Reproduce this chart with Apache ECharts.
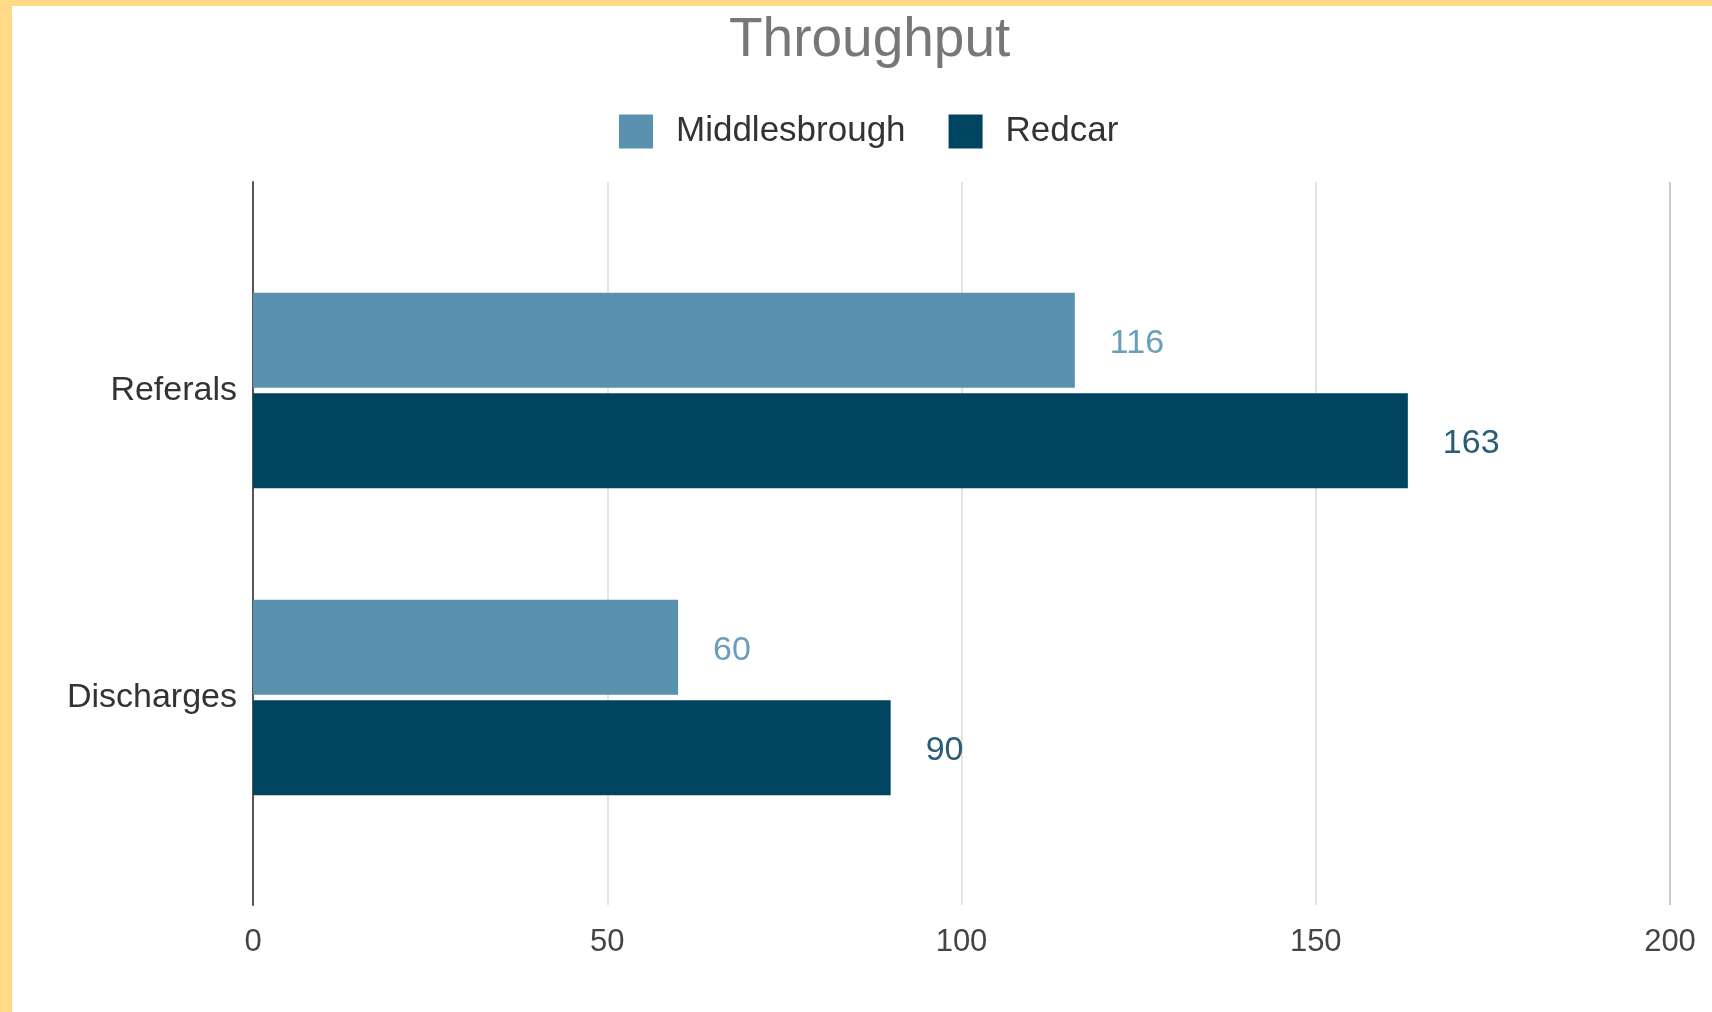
<!DOCTYPE html>
<html>
<head>
<meta charset="utf-8">
<title>Throughput</title>
<script src="https://cdn.jsdelivr.net/npm/echarts@6/dist/echarts.min.js"></script>
<style>
  html, body { margin: 0; padding: 0; background: #ffffff; }
  #chart { position: absolute; left: 0; top: 0; width: 1712px; height: 1012px; }
  .edge { position: absolute; background: #ffdb87; }
  #edgeLeft { left: 0; top: 0; width: 12px; height: 1012px; }
  #edgeTop { left: 0; top: 0; width: 1712px; height: 6px; }
</style>
</head>
<body>
<div id="chart"></div>
<div class="edge" id="edgeLeft"></div>
<div class="edge" id="edgeTop"></div>
<script>
// Throughput by site
const categories = ['Referals', 'Discharges'];
const middlesbrough = [116, 60];
const redcar = [163, 90];
const seriesNames = ['Middlesbrough', 'Redcar'];
const xTicks = { min: 0, max: 200, interval: 50 };

const FONT = "'Liberation Sans', Arial, sans-serif";
const LIGHT = '#5a91af';
const DARK = '#01445f';

const chart = echarts.init(document.getElementById('chart'), null, { renderer: 'canvas' });

const gridLeft = 253, gridRight = 42;

chart.setOption({
  animation: false,
  backgroundColor: '#ffffff',
  textStyle: { fontFamily: FONT },
  title: {
    text: 'Throughput',
    left: 724,
    top: 8,
    textStyle: { fontFamily: FONT, fontSize: 55, fontWeight: 'normal', color: '#777777' }
  },
  legend: {
    left: 614,
    top: 109,
    itemWidth: 34,
    itemHeight: 34,
    itemGap: 43,
    icon: 'rect',
    textStyle: { fontFamily: FONT, fontSize: 35, color: '#333333', padding: [0, 0, 0, 18] },
    data: seriesNames
  },
  grid: [
    // frame: axis line, gridlines and tick labels
    { left: gridLeft, right: gridRight, top: 182, bottom: 107 },
    // bars
    { left: gridLeft, right: gridRight, top: 237, bottom: 161 }
  ],
  xAxis: [
    {
      gridIndex: 0,
      type: 'value',
      min: xTicks.min, max: xTicks.max, interval: xTicks.interval,
      axisLine: { show: false },
      axisTick: { show: false },
      axisLabel: { fontFamily: FONT, fontSize: 31, color: '#444444', margin: 22 },
      splitLine: {
        show: true,
        lineStyle: { width: 2, color: ['#e4e4e4', '#e4e4e4', '#e4e4e4', '#e4e4e4', '#cccccc'] }
      }
    },
    {
      gridIndex: 1,
      type: 'value',
      min: xTicks.min, max: xTicks.max, interval: xTicks.interval,
      show: false
    }
  ],
  yAxis: [
    {
      gridIndex: 0,
      type: 'value',
      min: 0, max: 1,
      axisLine: { show: true, lineStyle: { color: '#555555', width: 2 } },
      axisTick: { show: false },
      axisLabel: { show: false },
      splitLine: { show: false }
    },
    {
      gridIndex: 1,
      type: 'category',
      inverse: true,
      data: categories,
      axisLine: { show: false },
      axisTick: { show: false },
      axisLabel: {
        fontFamily: FONT, fontSize: 34, color: '#333333', margin: 16,
        padding: [12, 0, 0, 0]
      }
    }
  ],
  series: [
    {
      name: seriesNames[0],
      type: 'bar',
      xAxisIndex: 1, yAxisIndex: 1,
      data: middlesbrough,
      barWidth: 95,
      barGap: '6%',
      itemStyle: { color: LIGHT },
      label: {
        show: true, position: 'right', distance: 35, offset: [0, 3],
        fontFamily: FONT, fontSize: 34, color: '#6a9ebc'
      }
    },
    {
      name: seriesNames[1],
      type: 'bar',
      xAxisIndex: 1, yAxisIndex: 1,
      data: redcar,
      barWidth: 95,
      barGap: '6%',
      itemStyle: { color: DARK },
      label: {
        show: true, position: 'right', distance: 35, offset: [0, 3],
        fontFamily: FONT, fontSize: 34, color: '#2c5d77'
      }
    }
  ]
});
</script>
</body>
</html>
